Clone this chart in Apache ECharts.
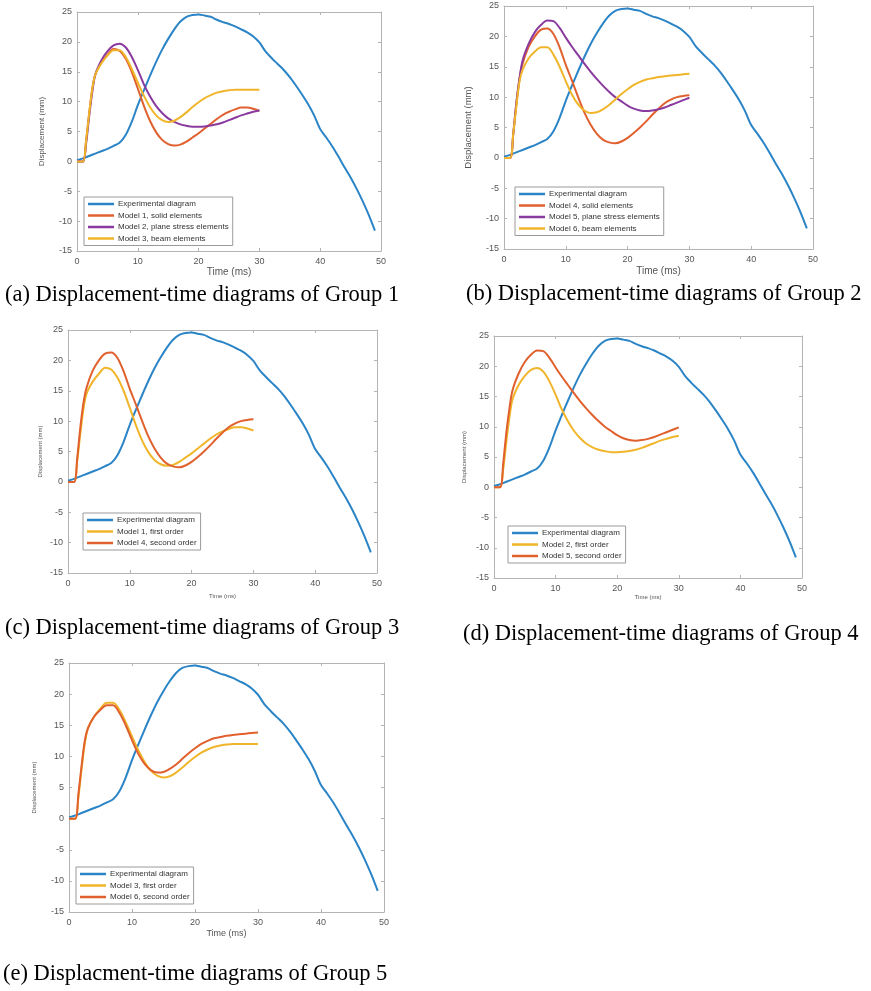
<!DOCTYPE html>
<html>
<head>
<meta charset="utf-8">
<title>Displacement-time diagrams</title>
<script src="https://cdn.jsdelivr.net/npm/echarts@6/dist/echarts.min.js"></script>
<style>
  html, body { margin: 0; padding: 0; background: #fff; }
  #main { width: 871px; height: 991px; }
</style>
</head>
<body>
<div id="main"></div>
<script>
// experimental curve (same in every panel)
const expTime = [0, 1, 2, 3, 4, 5, 6, 7, 8, 9, 10, 11, 12, 13, 14, 15, 16, 17, 18, 19, 20, 21, 22, 23, 24, 25, 26, 27, 28, 29, 30, 31, 32, 33, 34, 35, 36, 37, 38, 39, 40, 41, 42, 43, 44, 45, 46, 47, 48, 49];
const expDisp = [0.2, 0.5, 0.9, 1.3, 1.7, 2.1, 2.6, 3.1, 4.4, 6.6, 9.4, 11.9, 14.3, 16.6, 18.7, 20.5, 22.1, 23.4, 24.2, 24.5, 24.6, 24.4, 24.2, 23.7, 23.3, 23.0, 22.6, 22.1, 21.6, 20.9, 19.9, 18.4, 17.3, 16.3, 15.3, 14.1, 12.7, 11.2, 9.6, 7.7, 5.4, 4.0, 2.5, 0.8, -1.0, -2.7, -4.6, -6.7, -9.0, -11.6];

// numerical models, sampled at the same times
const modelTime = [0, 1, 1.5, 2, 2.5, 3, 4, 5, 6, 7, 8, 9, 10, 11, 12, 13, 14, 15, 16, 17, 18, 19, 20, 21, 22, 23, 24, 25, 26, 27, 28, 29, 30];
const model1 = [0, 0, 3.5, 8, 12, 14.5, 16.5, 17.8, 18.8, 18.5, 17.2, 15.0, 12.2, 9.3, 6.8, 4.9, 3.6, 2.9, 2.65, 2.8, 3.3, 4.0, 4.7, 5.5, 6.3, 7.1, 7.8, 8.3, 8.7, 9.0, 9.0, 8.8, 8.45];
const model2 = [0, 0, 3, 7.5, 11.5, 14.5, 16.9, 18.4, 19.4, 19.7, 19.1, 17.5, 15.3, 12.9, 10.9, 9.3, 8.1, 7.2, 6.6, 6.2, 5.95, 5.8, 5.8, 5.85, 6.0, 6.2, 6.5, 6.9, 7.3, 7.7, 8.0, 8.3, 8.5];
const model3 = [0, 0, 3.5, 8, 12, 14.5, 16.4, 17.7, 18.6, 18.6, 17.5, 15.5, 13.2, 11.0, 9.1, 7.7, 6.9, 6.6, 6.8, 7.4, 8.2, 9.1, 9.9, 10.6, 11.1, 11.5, 11.75, 11.9, 12.0, 12.0, 12.0, 12.0, 12.0];
const model4 = [0, 0, 4, 9, 13, 15.5, 18.3, 20.0, 21.1, 21.3, 20.4, 18.2, 15.3, 12.7, 10.0, 7.5, 5.5, 4.0, 3.0, 2.55, 2.4, 2.7, 3.3, 4.1, 5.0, 6.0, 7.1, 8.1, 9.0, 9.6, 10.0, 10.2, 10.3];
const model5 = [0, 0, 4, 9, 13, 16, 18.8, 20.7, 21.9, 22.6, 22.5, 21.4, 19.8, 18.3, 16.9, 15.5, 14.2, 13.0, 11.9, 10.9, 10.0, 9.3, 8.6, 8.1, 7.8, 7.7, 7.8, 8.0, 8.3, 8.7, 9.1, 9.5, 9.9];
const model6 = [0, 0, 4, 8.5, 12.5, 14.5, 16.4, 17.5, 18.2, 18.2, 17.0, 15.0, 12.6, 10.4, 8.8, 7.8, 7.4, 7.5, 8.0, 8.7, 9.6, 10.5, 11.3, 12.0, 12.5, 12.9, 13.1, 13.3, 13.45, 13.55, 13.65, 13.75, 13.85];

const xTicks = [0, 10, 20, 30, 40, 50];
const yTicks = [-15, -10, -5, 0, 5, 10, 15, 20, 25];

const captions = [
  '(a) Displacement-time diagrams of Group 1',
  '(b) Displacement-time diagrams of Group 2',
  '(c) Displacement-time diagrams of Group 3',
  '(d) Displacement-time diagrams of Group 4',
  '(e) Displacment-time diagrams of Group 5'
];

const BLUE = '#2a84c6', RED = '#e0602e', PURPLE = '#8a3a9e', YELLOW = '#f0b52a';

const pair = (t, v) => t.map((x, i) => [x, v[i]]);

// panel layout
const panels = [
  { grid: [77, 12, 304, 239], yName: 31, yFont: 8, xGap: 15, xFont: 10,
    legend: [84, 197], legendFont: 8, lines: [
      ['Experimental diagram', expTime, expDisp, BLUE],
      ['Model 1, solid elements', modelTime, model1, RED],
      ['Model 2, plane stress elements', modelTime, model2, PURPLE],
      ['Model 3, beam elements', modelTime, model3, YELLOW]] },
  { grid: [504, 6, 309, 243], yName: 31, yFont: 9.5, xGap: 17, xFont: 10,
    legend: [515, 187], legendFont: 8, lines: [
      ['Experimental diagram', expTime, expDisp, BLUE],
      ['Model 4, solid elements', modelTime, model4, RED],
      ['Model 5, plane stress elements', modelTime, model5, PURPLE],
      ['Model 6, beam elements', modelTime, model6, YELLOW]] },
  { grid: [68, 330, 309, 243], yName: 25, yFont: 6, xGap: 20, xFont: 6,
    legend: [83, 513], legendFont: 8, lines: [
      ['Experimental diagram', expTime, expDisp, BLUE],
      ['Model 1, first order', modelTime, model1, YELLOW],
      ['Model 4, second order', modelTime, model4, RED]] },
  { grid: [494, 336, 308, 242], yName: 27, yFont: 6, xGap: 13, xFont: 6,
    legend: [508, 526], legendFont: 8, lines: [
      ['Experimental diagram', expTime, expDisp, BLUE],
      ['Model 2, first order', modelTime, model2, YELLOW],
      ['Model 5, second order', modelTime, model5, RED]] },
  { grid: [69, 663, 315, 249], yName: 32, yFont: 6, xGap: 17, xFont: 9,
    legend: [76, 867], legendFont: 8, lines: [
      ['Experimental diagram', expTime, expDisp, BLUE],
      ['Model 3, first order', modelTime, model3, YELLOW],
      ['Model 6, second order', modelTime, model6, RED]] }
];

// caption anchor: left edge, vertical centre
const captionPos = [[5, 295], [466, 294], [5, 628], [463, 634], [3, 974]];

const axisGray = '#b4b4b4';
const labelGray = '#555';
const font = 'Liberation Sans, Arial, sans-serif';

const grid = [], xAxis = [], yAxis = [], series = [], legend = [];

panels.forEach((p, k) => {
  const [l, t, w, h] = p.grid;
  grid.push({ left: l, top: t, width: w, height: h, containLabel: false });

  const xBase = {
    gridIndex: k, type: 'value', min: xTicks[0], max: xTicks[xTicks.length - 1], interval: 10,
    axisLine: { onZero: false, lineStyle: { color: axisGray, width: 1 } },
    axisTick: { inside: true, length: 3, lineStyle: { color: axisGray } },
    splitLine: { show: false }
  };
  const yBase = {
    gridIndex: k, type: 'value', min: yTicks[0], max: yTicks[yTicks.length - 1], interval: 5,
    axisLine: { onZero: false, lineStyle: { color: axisGray, width: 1 } },
    axisTick: { inside: true, length: 3, lineStyle: { color: axisGray } },
    splitLine: { show: false }
  };
  xAxis.push(Object.assign({}, xBase, {
    position: 'bottom',
    name: 'Time (ms)', nameLocation: 'middle', nameGap: p.xGap,
    nameTextStyle: { color: labelGray, fontSize: p.xFont, fontFamily: font },
    axisLabel: { color: labelGray, fontSize: 9, margin: 6, fontFamily: font }
  }));
  xAxis.push(Object.assign({}, xBase, { position: 'top', axisLabel: { show: false } }));
  yAxis.push(Object.assign({}, yBase, {
    position: 'left',
    name: 'Displacement (mm)', nameLocation: 'middle', nameGap: p.yName, nameRotate: 90,
    nameTextStyle: { color: labelGray, fontSize: p.yFont, fontFamily: font },
    axisLabel: { color: labelGray, fontSize: 9, margin: 5, fontFamily: font }
  }));
  yAxis.push(Object.assign({}, yBase, { position: 'right', axisLabel: { show: false } }));

  p.lines.forEach(([name, tt, vv, color]) => {
    series.push({
      name: name, type: 'line', xAxisIndex: 2 * k, yAxisIndex: 2 * k,
      data: pair(tt, vv), showSymbol: false, smooth: 0.3,
      lineStyle: { color: color, width: 2 }, itemStyle: { color: color },
      z: name === 'Experimental diagram' ? 2 : 3
    });
  });

  legend.push({
    orient: 'vertical', left: p.legend[0], top: p.legend[1],
    data: p.lines.map(d => d[0]),
    icon: 'rect', itemWidth: 26, itemHeight: 2.5, itemGap: 3.5,
    padding: [3, 4, 3, 4],
    backgroundColor: '#fff', borderColor: '#9a9a9a', borderWidth: 1,
    textStyle: { fontSize: p.legendFont, color: '#333', fontFamily: font, padding: [0, 0, 0, -1] },
    selectedMode: false
  });
});

const graphic = captions.map((c, i) => ({
  type: 'text', x: captionPos[i][0], y: captionPos[i][1],
  style: {
    text: c, fontSize: 22.5, fontFamily: 'Liberation Serif, Times New Roman, serif',
    fill: '#000', verticalAlign: 'middle'
  }
}));

const chart = echarts.init(document.getElementById('main'), null, { renderer: 'canvas' });
chart.setOption({
  animation: false,
  backgroundColor: '#fff',
  grid: grid,
  xAxis: xAxis,
  yAxis: yAxis,
  legend: legend,
  series: series,
  graphic: graphic
});
</script>
</body>
</html>
